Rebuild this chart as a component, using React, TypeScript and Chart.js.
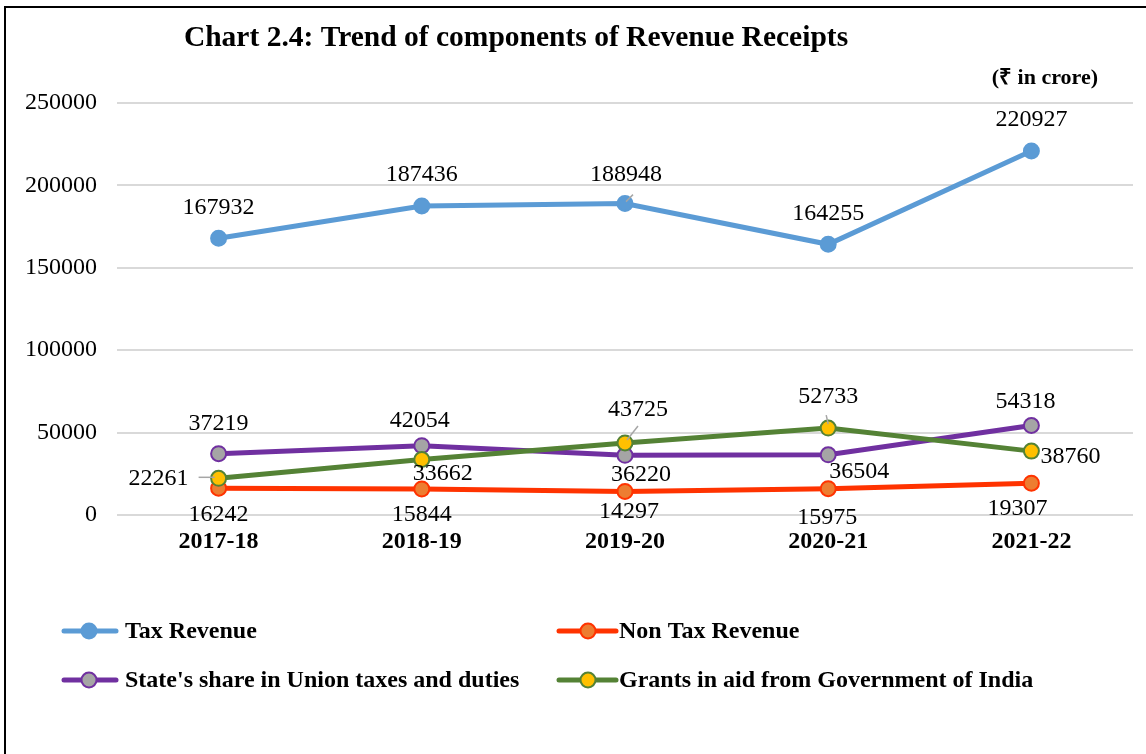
import { useEffect, useRef } from "react";
import { Chart, registerables } from "chart.js";

Chart.register(...registerables);

// ---------- data ----------
const categories = ["2017-18", "2018-19", "2019-20", "2020-21", "2021-22"];
const taxRevenue = [167932, 187436, 188948, 164255, 220927];
const nonTaxRevenue = [16242, 15844, 14297, 15975, 19307];
const stateShare = [37219, 42054, 36220, 36504, 54318];
const grantsInAid = [22261, 33662, 43725, 52733, 38760];
const yTickValues = [0, 50000, 100000, 150000, 200000, 250000];
const seriesNames = [
  "Tax Revenue",
  "Non Tax Revenue",
  "State's share in Union taxes and duties",
  "Grants in aid from Government of India",
];
const chartTitle = "Chart 2.4: Trend of components of Revenue Receipts";
const unitNote = "(₹ in crore)";

// ---------- styles ----------
const SERIF = "'Liberation Serif', 'Times New Roman', serif";
const STYLES = [
  { line: "#5B9BD5", fill: "#5B9BD5", edge: "#5B9BD5" },
  { line: "#FF3300", fill: "#ED7D31", edge: "#FF3300" },
  { line: "#7030A0", fill: "#A5A5A5", edge: "#7030A0" },
  { line: "#548235", fill: "#FFC000", edge: "#548235" },
];
const DRAW_ORDER = [3, 2, 1, 0];

// label placement: [dx, dy, align, leader?]
type Place = { dx: number; dy: number; align?: CanvasTextAlign; leader?: [number, number, number, number] };
const LABEL_PLACE: Place[][] = [
  [
    { dx: 0, dy: -31 },
    { dx: 0, dy: -31 },
    { dx: 1, dy: -29, leader: [1, -2, 8, -9] },
    { dx: 0, dy: -31 },
    { dx: 0, dy: -31 },
  ],
  [
    { dx: 0, dy: 26 },
    { dx: 0, dy: 26 },
    { dx: 4, dy: 20 },
    { dx: -1, dy: 29 },
    { dx: -14, dy: 26 },
  ],
  [
    { dx: 0, dy: -30 },
    { dx: -2, dy: -25 },
    { dx: 16, dy: 19 },
    { dx: 31, dy: 17 },
    { dx: -6, dy: -24 },
  ],
  [
    { dx: -30, dy: 0, align: "right", leader: [-20, -1, -4, -1] },
    { dx: 21, dy: 14 },
    { dx: 13, dy: -33, leader: [2, -3, 13, -17] },
    { dx: 0, dy: -31, leader: [0, -4, -2, -13] },
    { dx: 9, dy: 6, align: "left" },
  ],
];

const borderPlugin = {
  id: "frame",
  beforeDraw(chart: any) {
    const ctx = chart.ctx;
    ctx.save();
    ctx.fillStyle = "#ffffff";
    ctx.fillRect(0, 0, chart.width, chart.height);
    ctx.restore();
  },
  afterDraw(chart: any) {
    const ctx = chart.ctx;
    ctx.save();
    ctx.strokeStyle = "#000";
    ctx.lineWidth = 2;
    ctx.beginPath();
    ctx.moveTo(5, chart.height);
    ctx.lineTo(5, 7);
    ctx.lineTo(chart.width, 7);
    ctx.stroke();

    // title
    ctx.fillStyle = "#000";
    ctx.textAlign = "center";
    ctx.textBaseline = "alphabetic";
    ctx.font = `bold 29.5px ${SERIF}`;
    ctx.fillText(chartTitle, 516, 46);
    ctx.textAlign = "right";
    ctx.font = `bold 22px ${SERIF}`;
    ctx.fillText(unitNote, 1098, 84);

    // legend
    const cols = [
      { x1: 64, x2: 116, m: 89, tx: 125 },
      { x1: 559, x2: 616, m: 588, tx: 619 },
    ];
    const rows = [631, 680];
    chart.data.datasets.forEach((ds: any, i: number) => {
      const c = cols[i % 2];
      const y = rows[Math.floor(i / 2)];
      ctx.strokeStyle = ds.borderColor;
      ctx.lineWidth = 5;
      ctx.lineCap = "round";
      ctx.beginPath();
      ctx.moveTo(c.x1, y);
      ctx.lineTo(c.x2, y);
      ctx.stroke();
      ctx.beginPath();
      ctx.arc(c.m, y, 7.5, 0, Math.PI * 2);
      ctx.fillStyle = ds.pointBackgroundColor;
      ctx.fill();
      ctx.lineWidth = 2;
      ctx.strokeStyle = ds.pointBorderColor;
      ctx.stroke();
      ctx.fillStyle = "#000";
      ctx.font = `bold 24px ${SERIF}`;
      ctx.textAlign = "left";
      ctx.textBaseline = "middle";
      ctx.fillText(ds.label, c.tx, y + 1);
    });
    ctx.restore();
  },
};

const labelPlugin = {
  id: "pointLabels",
  afterDatasetsDraw(chart: any) {
    const ctx = chart.ctx;
    ctx.save();
    chart.data.datasets.forEach((ds: any, di: number) => {
      const meta = chart.getDatasetMeta(di);
      meta.data.forEach((pt: any, i: number) => {
        const p = LABEL_PLACE[di][i];
        if (p.leader) {
          const [a, b, c, d] = p.leader;
          ctx.strokeStyle = "#A6A6A6";
          ctx.lineWidth = 1.5;
          ctx.beginPath();
          ctx.moveTo(pt.x + a, pt.y + b);
          ctx.lineTo(pt.x + c, pt.y + d);
          ctx.stroke();
        }
        ctx.font = `24px ${SERIF}`;
        ctx.fillStyle = "#000";
        ctx.textAlign = p.align || "center";
        ctx.textBaseline = "middle";
        ctx.fillText(String(ds.data[i]), pt.x + p.dx, pt.y + p.dy);
      });
    });
    ctx.restore();
  },
};

export default function App() {
  const canvasRef = useRef<HTMLCanvasElement | null>(null);

  useEffect(() => {
    if (!canvasRef.current) return;
    const series = [taxRevenue, nonTaxRevenue, stateShare, grantsInAid];
    const chart = new Chart(canvasRef.current, {
      type: "line",
      data: {
        labels: categories,
        datasets: series.map((values, i) => ({
          label: seriesNames[i],
          data: values,
          borderColor: STYLES[i].line,
          backgroundColor: STYLES[i].line,
          borderWidth: 5,
          pointRadius: 7.5,
          pointHoverRadius: 7.5,
          pointBorderWidth: 2,
          pointBackgroundColor: STYLES[i].fill,
          pointBorderColor: STYLES[i].edge,
          tension: 0,
          order: DRAW_ORDER[i],
        })),
      },
      options: {
        animation: false,
        responsive: true,
        maintainAspectRatio: false,
        layout: { padding: { left: 0, top: 103, right: 13, bottom: 189 } },
        plugins: {
          legend: { display: false },
          title: { display: false },
          tooltip: { enabled: false },
        },
        scales: {
          x: {
            type: "category",
            offset: true,
            grid: { display: false, drawTicks: false },
            border: { display: false },
            ticks: {
              color: "#000",
              padding: 12,
              font: { family: SERIF, size: 24, weight: "bold" },
            },
            afterFit: (scale: any) => {
              scale.height = 50;
            },
          },
          y: {
            min: 0,
            max: 250000,
            grid: { color: "#D9D9D9", lineWidth: 2, drawTicks: false },
            border: { display: false },
            afterBuildTicks: (scale: any) => {
              scale.ticks = yTickValues.map((v) => ({ value: v }));
            },
            ticks: {
              color: "#000",
              padding: 20,
              font: { family: SERIF, size: 24 },
              callback: (v: any) => String(v),
            },
            afterFit: (scale: any) => {
              scale.width = 117;
            },
          },
        },
      },
      plugins: [borderPlugin, labelPlugin],
    });
    return () => chart.destroy();
  }, []);

  return (
    <div style={{ position: "fixed", left: 0, top: 0, width: 1146, height: 754, background: "#fff" }}>
      <canvas ref={canvasRef} />
    </div>
  );
}
